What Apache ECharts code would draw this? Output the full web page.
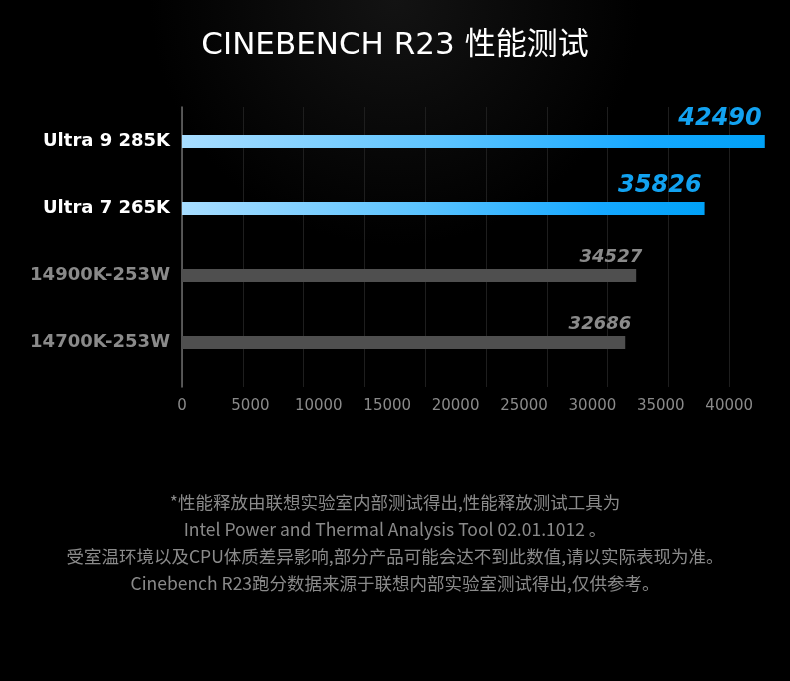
<!DOCTYPE html>
<html>
<head>
    <meta charset="UTF-8">
    <title>CINEBENCH R23 性能测试</title>
    <style>
        html,body {
            height: 100%;
            width: 100%;
            margin: 0;
            padding: 0;
            background: #000;
        }
        #chart {
            width: 790px;
            height: 681px;
        }
    </style>
    <script src="https://cdn.jsdelivr.net/npm/echarts@6/dist/echarts.min.js"></script>
</head>
<body>
<div id="chart"></div>
<script type="text/javascript">
    // 数据
    var cpuNames = ['Ultra 9 285K', 'Ultra 7 265K', '14900K-253W', '14700K-253W'];
    var scores = [42490, 35826, 34527, 32686];          // 标注的分数
    var barLengths = [42600, 38200, 33200, 32400];      // 原图柱子实际画的长度
    var axisTicks = [0, 5000, 10000, 15000, 20000, 25000, 30000, 35000, 40000];
    var highlightCount = 2;                             // 前两个是蓝色

    var fontLatin = "'DejaVu Sans', 'Noto Sans CJK SC', sans-serif";
    var fontCJK = "'Noto Sans CJK SC', 'DejaVu Sans', sans-serif";
    var tickMax = axisTicks[axisTicks.length - 1];
    var axisMax = tickMax * 10 / 9;   // 40000 落在 729px 左右

    var blueBar = new echarts.graphic.LinearGradient(0, 0, 1, 0, [
        {offset: 0, color: '#a8ddff'},
        {offset: 0.45, color: '#5cc4ff'},
        {offset: 0.8, color: '#16a8ff'},
        {offset: 1, color: '#00a1f7'}
    ]);

    var barData = [];
    for (var i = 0; i < cpuNames.length; i++) {
        var hi = i < highlightCount;
        barData.push({
            value: barLengths[i],
            itemStyle: {color: hi ? blueBar : '#4f4f4f'},
            label: hi ? {
                fontSize: 24,
                color: '#12a2f0',
                offset: [-3, -4]
            } : {
                fontSize: 18,
                color: '#8a8a8a',
                offset: [6, -3]
            }
        });
    }

    var myChart = echarts.init(document.getElementById('chart'));
    var option = {
        backgroundColor: {
            type: 'radial', x: 0.5, y: 0, r: 0.36,
            colorStops: [{offset: 0, color: '#131313'}, {offset: 1, color: '#000'}]
        },
        animation: false,
        title: [{
            text: 'CINEBENCH R23 性能测试',
            left: 'center',
            top: 25,
            textStyle: {
                color: '#fff',
                fontSize: 31,
                fontWeight: 'normal',
                fontFamily: fontLatin
            }
        }, {
            text: '*性能释放由联想实验室内部测试得出,性能释放测试工具为\n' +
                'Intel Power and Thermal Analysis Tool 02.01.1012 。\n' +
                '受室温环境以及CPU体质差异影响,部分产品可能会达不到此数值,请以实际表现为准。\n' +
                'Cinebench R23跑分数据来源于联想内部实验室测试得出,仅供参考。',
            left: 'center',
            top: 484,
            textStyle: {
                color: '#8a8a8a',
                fontSize: 17.5,
                lineHeight: 27,
                fontWeight: 'normal',
                fontFamily: fontCJK
            }
        }],
        grid: [
            // 装饰用：纵轴线 + 竖网格线 + 横轴刻度
            {left: 182, right: 0, top: 107, height: 280},
            // 柱子
            {left: 182, right: 0, top: 108, height: 268}
        ],
        xAxis: [{
            gridIndex: 0,
            type: 'value',
            position: 'top',
            min: 0,
            max: 50000,
            interval: 5000,
            axisLine: {show: false},
            axisTick: {show: false},
            axisLabel: {show: false},
            splitLine: {show: true, showMaxLine: false, lineStyle: {color: '#1e1e1e', width: 1}}
        }, {
            gridIndex: 0,
            type: 'value',
            position: 'bottom',
            min: 0,
            max: axisMax,
            interval: 5000,
            axisLine: {show: false},
            axisTick: {show: false},
            splitLine: {show: false},
            axisLabel: {
                color: '#8a8a8a',
                fontSize: 15,
                fontFamily: fontLatin,
                margin: 12,
                showMaxLabel: false,
                formatter: function (v) {
                    return axisTicks.indexOf(v) >= 0 ? String(v) : '';
                }
            }
        }, {
            gridIndex: 1,
            type: 'value',
            min: 0,
            max: axisMax,
            show: false
        }],
        yAxis: [{
            gridIndex: 0,
            type: 'value',
            min: 0,
            max: 1,
            axisLine: {show: true, lineStyle: {color: '#6c6c6c', width: 1.5}},
            axisTick: {show: false},
            axisLabel: {show: false},
            splitLine: {show: false}
        }, {
            gridIndex: 1,
            type: 'category',
            inverse: true,
            data: cpuNames,
            axisLine: {show: false},
            axisTick: {show: false},
            splitLine: {show: false},
            axisLabel: {
                margin: 12,
                fontSize: 18,
                fontWeight: 'bold',
                fontFamily: fontLatin,
                color: function (value, index) {
                    return index < highlightCount ? '#ffffff' : '#8a8a8a';
                }
            }
        }],
        series: [{
            type: 'bar',
            xAxisIndex: 2,
            yAxisIndex: 1,
            barWidth: 13,
            data: barData,
            label: {
                show: true,
                position: ['100%', 0],
                align: 'right',
                verticalAlign: 'bottom',
                fontStyle: 'italic',
                fontWeight: 'bold',
                fontFamily: fontLatin,
                formatter: function (p) {
                    return String(scores[p.dataIndex]);
                }
            }
        }]
    };
    myChart.setOption(option);
</script>
</body>
</html>
